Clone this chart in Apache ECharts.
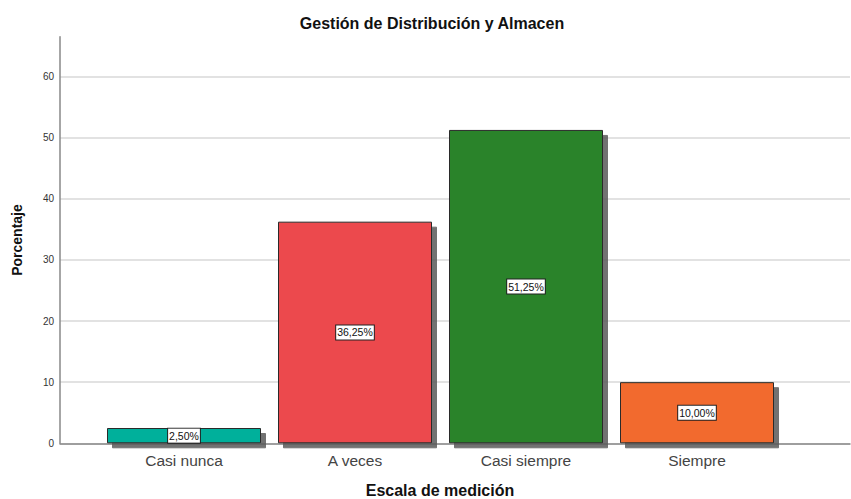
<!DOCTYPE html>
<html><head><meta charset="utf-8">
<script src="https://cdn.jsdelivr.net/npm/echarts@6/dist/echarts.min.js"></script>
<style>html,body{margin:0;padding:0;background:#fff}#c{width:851px;height:499px}</style>
</head><body><div id="c"></div>
<script>
const categories = ['Casi nunca', 'A veces', 'Casi siempre', 'Siempre'];
const values = [2.5, 36.25, 51.25, 10.0];
const valueLabels = ['2,50%', '36,25%', '51,25%', '10,00%'];
const barColors = ['#00b09b', '#ec4a4d', '#2a832a', '#f26b2d'];
const yTicks = [0, 10, 20, 30, 40, 50, 60];

const chart = echarts.init(document.getElementById('c'), null, {renderer: 'svg'});
const gridTop = 36.7, gridBottom = 55.7;
const yMax = 66.5;
chart.setOption({
  animation: false,
  title: [{
    text: 'Gestión de Distribución y Almacen',
    left: 432, top: 15, textAlign: 'center', padding: 0,
    textStyle: {fontFamily: 'Liberation Sans, Arial', fontSize: 16, fontWeight: 'bold', color: '#111'}
  }, {
    text: 'Escala de medición',
    left: 440, top: 482, textAlign: 'center', padding: 0,
    textStyle: {fontFamily: 'Liberation Sans, Arial', fontSize: 16, fontWeight: 'bold', color: '#111'}
  }],
  grid: [
    {left: 60, right: 1, top: gridTop, bottom: gridBottom},
    {left: 98.5, width: 684, top: gridTop, bottom: gridBottom}
  ],
  xAxis: [
    {gridIndex: 0, type: 'value', min: 0, max: 1,
      axisLine: {show: true, onZero: false, lineStyle: {color: '#888', width: 1.5}},
      axisTick: {show: false}, axisLabel: {show: false}, splitLine: {show: false}},
    {gridIndex: 1, type: 'category', data: categories,
      axisLine: {show: false}, axisTick: {show: false},
      axisLabel: {margin: 9, fontFamily: 'Liberation Sans, Arial', fontSize: 15.5, color: '#444'}}
  ],
  yAxis: [
    {gridIndex: 0, type: 'value', min: 0, max: yMax, interval: 10,
      name: 'Porcentaje', nameLocation: 'middle', nameGap: 36,
      nameTextStyle: {fontFamily: 'Liberation Sans, Arial', fontSize: 14, fontWeight: 'bold', color: '#111'},
      axisLine: {show: true, lineStyle: {color: '#888', width: 1.5}},
      axisTick: {show: false},
      axisLabel: {showMaxLabel: false, margin: 6, fontFamily: 'Liberation Sans, Arial', fontSize: 10, color: '#333',
        formatter: v => yTicks.includes(v) ? String(v) : ''},
      splitLine: {show: true, showMaxLine: false, lineStyle: {color: '#d9d9d9', width: 1.5}}},
    {gridIndex: 1, type: 'value', min: 0, max: yMax, show: false, splitLine: {show: false}}
  ],
  series: [{
    type: 'bar', xAxisIndex: 1, yAxisIndex: 1,
    barWidth: 154,
    data: values.map((v, i) => ({
      value: v,
      itemStyle: {color: barColors[i]},
      label: {formatter: valueLabels[i]}
    })),
    itemStyle: {borderColor: '#2b2b2b', borderWidth: 1,
      shadowColor: 'rgba(90,90,90,0.85)', shadowBlur: 0, shadowOffsetX: 5, shadowOffsetY: 5},
    label: {show: true, position: 'inside', fontFamily: 'Liberation Sans, Arial', fontSize: 10.5, color: '#111',
      backgroundColor: '#fff', borderColor: '#222', borderWidth: 1, padding: [2, 1, 1, 1]}
  }]
});
</script></body></html>
